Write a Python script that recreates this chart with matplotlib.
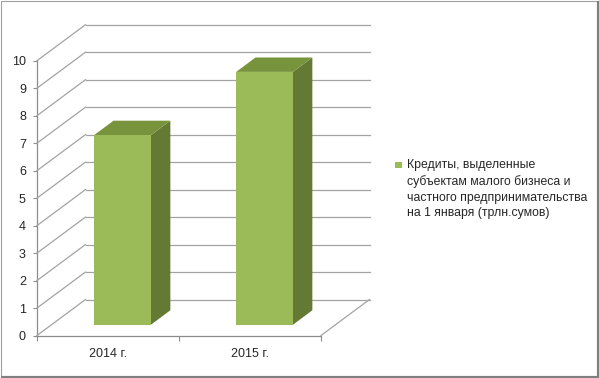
import numpy as np
import matplotlib
matplotlib.use('Agg')
import matplotlib.pyplot as plt
from matplotlib.patches import Polygon, Rectangle
from matplotlib.lines import Line2D
from matplotlib.transforms import IdentityTransform

plt.rcParams['font.family'] = ['Liberation Sans', 'DejaVu Sans']

# Данные
categorias = ['2014 г.', '2015 г.']
valores = [6.9, 9.2]
ticks_y = list(range(0, 11))
legenda = ('Кредиты, выделенные\nсубъектам малого бизнеса и\n'
           'частного предпринимательства\nна 1 января (трлн.сумов)')

cor_frente = '#9bbb59'
cor_topo = '#77933c'
cor_lado = '#647a34'
cor_grade = '#a3a3a3'
cor_eixo = '#8c8c8c'

W, H = 599, 378
fig = plt.figure(figsize=(W / 100, H / 100), dpi=100)
ax = fig.add_axes([37 / W, 42.5 / H, 284 / W, 274.8 / H])
ax.set_xlim(0, 2)
ax.set_ylim(0, 10)
ax.patch.set_visible(False)

# profundidade 3D em pixels (x, y para cima)
PROF = np.array([48.5, 36.0])
ident = IdentityTransform()


def proj(x, y, d=0.0):
    return ax.transData.transform((x, y)) + d * PROF


def linha(p0, p1, z=1):
    fig.add_artist(Line2D([p0[0], p1[0]], [p0[1], p1[1]], color=cor_grade,
                          lw=0.9, transform=ident, zorder=z))


# parede do fundo e parede esquerda
for v in ticks_y:
    linha(proj(0, v, 1), proj(2, v, 1))
    linha(proj(0, v, 0), proj(0, v, 1))
# chão, diagonal direita
linha(proj(2, 0, 0), proj(2, 0, 1))

# barras 3D
posicoes = np.arange(len(categorias)) + 0.5
largura = 0.4
d0, d1 = 0.3, 0.7
for x, v in zip(posicoes, valores):
    x0, x1 = x - largura / 2, x + largura / 2
    frente = [proj(x0, 0, d0), proj(x1, 0, d0), proj(x1, v, d0), proj(x0, v, d0)]
    topo = [proj(x0, v, d0), proj(x1, v, d0), proj(x1, v, d1), proj(x0, v, d1)]
    lado = [proj(x1, 0, d0), proj(x1, 0, d1), proj(x1, v, d1), proj(x1, v, d0)]
    for pts, cor in [(lado, cor_lado), (topo, cor_topo), (frente, cor_frente)]:
        fig.add_artist(Polygon(pts, closed=True, facecolor=cor, edgecolor='none',
                               transform=ident, zorder=3))

# eixos
for lado_ in ['top', 'right']:
    ax.spines[lado_].set_visible(False)
for lado_ in ['left', 'bottom']:
    ax.spines[lado_].set_color(cor_eixo)
    ax.spines[lado_].set_linewidth(0.9)

ax.set_yticks(ticks_y)
ax.tick_params(axis='y', length=3, width=0.8, color=cor_eixo, pad=5,
               labelsize=9, labelcolor='#262626')
ax.set_xticks([0, 1, 2])
ax.set_xticklabels([])
ax.tick_params(axis='x', which='major', length=3.6, width=0.8, color=cor_eixo)
ax.set_xticks(posicoes, minor=True)
ax.set_xticklabels(categorias, minor=True)
ax.tick_params(axis='x', which='minor', length=0, pad=9, labelsize=9,
               labelcolor='#262626')

# legenda
fig.add_artist(Rectangle((395, H - 168.3), 6.5, 6.5, facecolor=cor_frente,
                         edgecolor='none', transform=ident))
fig.text(407 / W, 1 - 159 / H, legenda, ha='left', va='top', fontsize=8.8,
         color='#262626', linespacing=1.4)

# moldura
fig.add_artist(Rectangle((1, 2), 596, 375, facecolor='none', edgecolor='#a0a0a0',
                         lw=0.8, transform=ident, zorder=10))
fig.add_artist(Line2D([598, 598], [0, 376], color='#7f7f7f', lw=1.5,
                      transform=ident, zorder=10))
fig.add_artist(Line2D([2, 599], [1, 1], color='#7f7f7f', lw=1.5,
                      transform=ident, zorder=10))

fig.savefig('out.png', dpi=100)
